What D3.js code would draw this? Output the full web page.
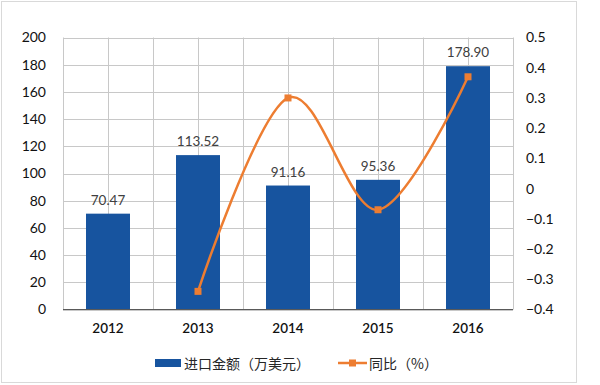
<!DOCTYPE html>
<html><head><meta charset="utf-8">
<script src="https://cdn.jsdelivr.net/npm/d3@7"></script>
<style>body{margin:0;background:#fff}svg{display:block}</style>
</head><body>
<svg id="c" width="600" height="385"></svg>
<script>
const categories = ["2012","2013","2014","2015","2016"];
const importValues = [70.47,113.52,91.16,95.36,178.90];
const yoyYears = ["2013","2014","2015","2016"];
const yoyValues = [-0.34,0.30,-0.07,0.37];
const leftTicks = [0,20,40,60,80,100,120,140,160,180,200];
const rightTicks = [-0.4,-0.3,-0.2,-0.1,0,0.1,0.2,0.3,0.4,0.5];
const seriesNames = ["进口金额（万美元）","同比（%）"];

const svg = d3.select("#c");
const font = "Lato, 'Noto Sans CJK SC', sans-serif";
const L=63, R=513, T=37.5, B=309.5;
svg.append("rect").attr("x",1.5).attr("y",1.5).attr("width",575).attr("height",381)
  .attr("fill","#fff").attr("stroke","#d9d9d9");

const x = d3.scaleBand().domain(categories).range([L,R]);
const yL = d3.scaleLinear().domain([0,200]).range([B,T]);
const yR = d3.scaleLinear().domain([-0.4,0.5]).range([B,T]);

const g = svg.append("g");
// horizontal grid
g.selectAll("line.h").data(leftTicks).join("line")
  .attr("x1",L).attr("x2",R).attr("y1",d=>Math.round(yL(d))+0.5).attr("y2",d=>Math.round(yL(d))+0.5)
  .attr("stroke","#c8c8c8").attr("stroke-width",1);
// vertical grid at band edges and centers
const vx = [];
categories.forEach(c=>{vx.push(x(c)); vx.push(x(c)+x.bandwidth()/2);});
vx.push(R);
g.selectAll("line.v").data(vx).join("line")
  .attr("x1",d=>Math.round(d)+0.5).attr("x2",d=>Math.round(d)+0.5).attr("y1",T).attr("y2",B)
  .attr("stroke","#c8c8c8").attr("stroke-width",1);

// bars
const bw = 44;
svg.selectAll("rect.bar").data(categories).join("rect")
  .attr("x",(d)=>x(d)+x.bandwidth()/2-bw/2).attr("width",bw)
  .attr("y",(d,i)=>yL(importValues[i])).attr("height",(d,i)=>B-yL(importValues[i]))
  .attr("fill","#17549f");

// baseline
svg.append("line").attr("x1",L).attr("x2",R).attr("y1",B).attr("y2",B).attr("stroke","#595959").attr("stroke-width",1.2);

// data labels
svg.selectAll("text.dl").data(categories).join("text")
  .attr("x",d=>x(d)+x.bandwidth()/2).attr("y",(d,i)=>yL(importValues[i])-9)
  .attr("text-anchor","middle").attr("font-family",font).attr("font-size",13.5).attr("fill","#404040")
  .text((d,i)=>importValues[i].toFixed(2));

// left axis
const axL = d3.axisLeft(yL).tickValues(leftTicks).tickSize(0).tickPadding(0);
const gL = svg.append("g").attr("transform",`translate(46,0)`).call(axL);
gL.select(".domain").remove();
gL.selectAll("text").attr("font-family",font).attr("font-size",14).attr("fill","#111");

// right axis
const axR = d3.axisRight(yR).tickValues(rightTicks).tickSize(0).tickPadding(0).tickFormat(d=>d===0?"0":d3.format(".1f")(d));
const gR = svg.append("g").attr("transform",`translate(526,0)`).call(axR);
gR.select(".domain").remove();
gR.selectAll("text").attr("font-family",font).attr("font-size",14).attr("fill","#111");

// bottom axis
const axB = d3.axisBottom(x).tickSize(0).tickPadding(0);
const gB = svg.append("g").attr("transform",`translate(0,${B+14})`).call(axB);
gB.select(".domain").remove();
gB.selectAll("text").attr("font-family",font).attr("font-size",13.5).attr("font-weight",600).attr("fill","#111");

// line
const pts = yoyYears.map((c,i)=>[x(c)+x.bandwidth()/2, yR(yoyValues[i])]);
svg.append("path").attr("d",d3.line().curve(d3.curveCardinal.tension(0))(pts))
  .attr("fill","none").attr("stroke","#ed7d31").attr("stroke-width",2.5);
svg.selectAll("rect.mk").data(pts).join("rect")
  .attr("x",d=>d[0]-3.5).attr("y",d=>d[1]-3.5).attr("width",7).attr("height",7).attr("fill","#ed7d31");

// legend
const ly = 363;
svg.append("rect").attr("x",155).attr("y",ly-4).attr("width",26).attr("height",8).attr("fill","#17549f");
svg.append("text").attr("x",184).attr("y",ly).attr("dominant-baseline","central")
  .attr("font-family","'Noto Sans CJK SC', sans-serif").attr("font-size",14).attr("fill","#262626").text(seriesNames[0]);
svg.append("line").attr("x1",338).attr("x2",367).attr("y1",ly).attr("y2",ly).attr("stroke","#ed7d31").attr("stroke-width",2.5);
svg.append("rect").attr("x",349).attr("y",ly-3.5).attr("width",7).attr("height",7).attr("fill","#ed7d31");
svg.append("text").attr("x",369).attr("y",ly).attr("dominant-baseline","central")
  .attr("font-family","'Noto Sans CJK SC', sans-serif").attr("font-size",14).attr("fill","#262626").text(seriesNames[1]);
</script>
</body></html>
